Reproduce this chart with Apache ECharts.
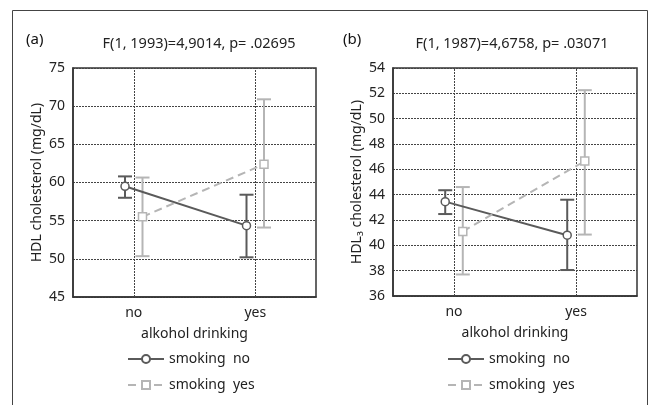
<!DOCTYPE html>
<html>
<head>
<meta charset="utf-8">
<script src="https://cdn.jsdelivr.net/npm/echarts@6/dist/echarts.min.js"></script>
<style>html,body{margin:0;padding:0;background:#fff}#c{width:650px;height:405px}</style>
</head>
<body>
<div id="c"></div>
<script>
// ---- data ----
const categories = ['no', 'yes'];
const seriesNames = ['smoking  no', 'smoking  yes'];
const panelLabels = ['(a)', '(b)'];
const panelTitles = ['F(1, 1993)=4,9014, p= .02695', 'F(1, 1987)=4,6758, p= .03071'];
const yAxisNames = ['HDL cholesterol (mg/dL)', 'HDL\u2083 cholesterol (mg/dL)'];
const xAxisName = 'alkohol drinking';
const yRangeA = [45, 75, 5];
const yRangeB = [36, 54, 2];

// panel (a) HDL
const aNoMean = [59.5, 54.35];
const aNoLow = [58.0, 50.2];
const aNoHigh = [60.8, 58.4];
const aYesMean = [55.5, 62.4];
const aYesLow = [50.35, 54.1];
const aYesHigh = [60.65, 70.9];
// panel (b) HDL3
const bNoMean = [43.45, 40.8];
const bNoLow = [42.47, 38.05];
const bNoHigh = [44.35, 43.6];
const bYesMean = [41.1, 46.65];
const bYesLow = [37.7, 40.85];
const bYesHigh = [44.6, 52.25];

// ---- styles ----
const DARK = '#5a5a5a';
const LIGHT = '#b5b5b5';
const TXT = '#222';
const FONT = 'Noto Sans';
const OFF = 0.072;

const chart = echarts.init(document.getElementById('c'), null, {renderer: 'canvas'});

function pts(means, off) { return means.map((v, i) => [i + off, v]); }
function bars(low, high, off) { return low.map((v, i) => [i + off, v, high[i]]); }

function errSeries(idx, data, color) {
  return {
    type: 'custom', xAxisIndex: idx, yAxisIndex: idx, z: 2, silent: true,
    data: data,
    encode: {x: 0, y: [1, 2]},
    renderItem: function (params, api) {
      const x = api.value(0);
      const p1 = api.coord([x, api.value(1)]);
      const p2 = api.coord([x, api.value(2)]);
      const hw = 7;
      const st = {stroke: color, lineWidth: 2};
      return {type: 'group', children: [
        {type: 'line', shape: {x1: p1[0], y1: p1[1], x2: p2[0], y2: p2[1]}, style: st},
        {type: 'line', shape: {x1: p1[0] - hw, y1: p1[1], x2: p1[0] + hw, y2: p1[1]}, style: st},
        {type: 'line', shape: {x1: p2[0] - hw, y1: p2[1], x2: p2[0] + hw, y2: p2[1]}, style: st}
      ]};
    }
  };
}

function lineSeries(idx, name, data, dark, withMark) {
  const s = {
    type: 'line', name: name, xAxisIndex: idx, yAxisIndex: idx, z: 5,
    data: data,
    symbol: dark ? 'circle' : 'rect',
    symbolSize: 8,
    itemStyle: {color: '#fff', borderColor: dark ? DARK : LIGHT, borderWidth: 1.5},
    lineStyle: {color: dark ? DARK : LIGHT, width: 2, type: dark ? 'solid' : [8, 5]},
    emphasis: {disabled: true}
  };
  if (withMark) {
    s.markLine = {
      silent: true, symbol: 'none', label: {show: false}, animation: false,
      lineStyle: {color: '#444', width: 1, type: [2, 1]},
      emphasis: {disabled: true},
      data: categories.map((c, i) => ({xAxis: i}))
    };
  }
  return s;
}

function xAx(idx) {
  return {
    type: 'value', gridIndex: idx, min: -0.5, max: 1.5, interval: 0.5,
    axisLine: {show: true, onZero: false, lineStyle: {color: '#333', width: 1.5}},
    axisTick: {show: false}, splitLine: {show: false},
    axisLabel: {margin: 9, fontSize: 14, color: TXT, fontFamily: FONT,
      formatter: v => { const i = Math.round(v); return Math.abs(v - i) < 1e-6 && categories[i] ? categories[i] : ''; }},
    name: xAxisName, nameLocation: 'middle', nameGap: 30,
    nameTextStyle: {fontSize: 14, color: TXT, fontFamily: FONT}
  };
}
function yAx(idx, r) {
  return {
    type: 'value', gridIndex: idx, min: r[0], max: r[1], interval: r[2],
    axisLine: {show: true, onZero: false, lineStyle: {color: '#333', width: 1.5}},
    axisTick: {show: false},
    splitLine: {show: true, lineStyle: {color: '#444', width: 1, type: [2, 1]}},
    axisLabel: {margin: 8, fontSize: 14, color: TXT, fontFamily: FONT},
    name: yAxisNames[idx], nameLocation: 'middle', nameGap: 29,
    nameTextStyle: {fontSize: 14, color: TXT, fontFamily: FONT}
  };
}

const option = {
  animation: false,
  backgroundColor: '#fff',
  grid: [
    {left: 73, right: 334, top: 68, bottom: 108, show: true, borderColor: '#333', borderWidth: 1.5, backgroundColor: 'transparent'},
    {left: 393, right: 13, top: 68, bottom: 109, show: true, borderColor: '#333', borderWidth: 1.5, backgroundColor: 'transparent'}
  ],
  xAxis: [xAx(0), xAx(1)],
  yAxis: [yAx(0, yRangeA), yAx(1, yRangeB)],
  legend: [0, 1].map(i => ({
    orient: 'vertical', left: i === 0 ? 127 : 447, top: 352, padding: 0,
    itemWidth: 36, itemHeight: 10, itemGap: 12,
    selectedMode: false,
    textStyle: {fontSize: 14, lineHeight: 14, color: TXT, fontFamily: FONT},
    data: seriesNames
  })),
  graphic: [
    {type: 'rect', silent: true, shape: {x: 12.5, y: 10.5, width: 635, height: 420}, style: {fill: 'none', stroke: '#444', lineWidth: 1}},
    {type: 'text', x: 26, y: 40, style: {text: panelLabels[0], fontSize: 15, fill: '#111', fontFamily: FONT, textVerticalAlign: 'middle'}},
    {type: 'text', x: 343, y: 40, style: {text: panelLabels[1], fontSize: 15, fill: '#111', fontFamily: FONT, textVerticalAlign: 'middle'}},
    {type: 'text', x: 199, y: 44, style: {text: panelTitles[0], fontSize: 14.5, fill: TXT, fontFamily: FONT, textAlign: 'center', textVerticalAlign: 'middle'}},
    {type: 'text', x: 512, y: 44, style: {text: panelTitles[1], fontSize: 14.5, fill: TXT, fontFamily: FONT, textAlign: 'center', textVerticalAlign: 'middle'}}
  ],
  series: [
    errSeries(0, bars(aNoLow, aNoHigh, -OFF), DARK),
    errSeries(0, bars(aYesLow, aYesHigh, OFF), LIGHT),
    lineSeries(0, seriesNames[0], pts(aNoMean, -OFF), true, true),
    lineSeries(0, seriesNames[1], pts(aYesMean, OFF), false, false),
    errSeries(1, bars(bNoLow, bNoHigh, -OFF), DARK),
    errSeries(1, bars(bYesLow, bYesHigh, OFF), LIGHT),
    lineSeries(1, seriesNames[0], pts(bNoMean, -OFF), true, true),
    lineSeries(1, seriesNames[1], pts(bYesMean, OFF), false, false)
  ]
};
chart.setOption(option);
</script>
</body>
</html>
